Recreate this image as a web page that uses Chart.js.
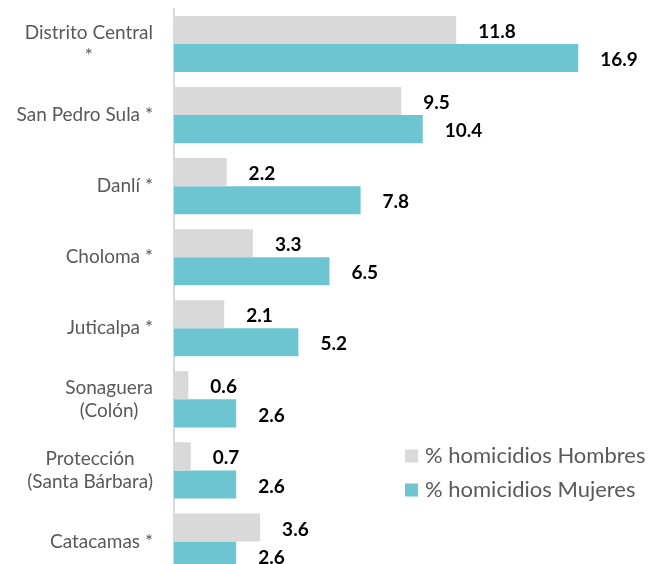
<!DOCTYPE html>
<html>
<head>
<meta charset="utf-8">
<script src="https://cdn.jsdelivr.net/npm/chart.js@4"></script>
<style>
  html, body { margin: 0; padding: 0; background: #fff; overflow: hidden; }
  canvas { display: block; }
</style>
</head>
<body>
<canvas id="chart" width="650" height="577"></canvas>
<script>
const categories = [
  ['Distrito Central', '*'],
  'San Pedro Sula *',
  'Danlí *',
  'Choloma *',
  'Juticalpa *',
  ['Sonaguera', '(Colón)'],
  ['Protección', '(Santa Bárbara)'],
  'Catacamas *'
]
const hombres = [11.8, 9.5, 2.2, 3.3, 2.1, 0.6, 0.7, 3.6]
const mujeres = [16.9, 10.4, 7.8, 6.5, 5.2, 2.6, 2.6, 2.6]
const seriesNames = ['% homicidios Hombres', '% homicidios Mujeres']
const colors = ['#d9d9d9', '#6cc5d0']

const FONT = 'Lato, "Open Sans", sans-serif'

// labels on the y axis: block right aligned, lines centred inside the block
const yLabels = {
  id: 'yLabels',
  afterDraw (chart) {
    const {ctx, scales: {y}} = chart
    ctx.save()
    ctx.font = `19px ${FONT}`
    ctx.fillStyle = '#595959'
    ctx.textAlign = 'center'
    ctx.textBaseline = 'middle'
    const right = 153
    const lh = 23
    categories.forEach((lab, i) => {
      const lines = Array.isArray(lab) ? lab : [lab]
      const widest = Math.max(...lines.map(l => ctx.measureText(l).width))
      const cx = right - widest / 2
      const cy = y.getPixelForTick(i)
      lines.forEach((l, j) => {
        ctx.fillText(l, cx, cy + (j - (lines.length - 1) / 2) * lh)
      })
    })
    ctx.restore()
  }
}

// value labels at the end of each bar
const valueLabels = {
  id: 'valueLabels',
  afterDatasetsDraw (chart) {
    const {ctx} = chart
    ctx.save()
    ctx.font = `bold 19px ${FONT}`
    ctx.fillStyle = '#000'
    ctx.textAlign = 'left'
    ctx.textBaseline = 'middle'
    chart.data.datasets.forEach((ds, di) => {
      chart.getDatasetMeta(di).data.forEach((bar, i) => {
        ctx.fillText(ds.data[i].toFixed(1), bar.x + 22, bar.y + 2)
      })
    })
    ctx.restore()
  }
}

// legend sitting inside the plot, lower right
const boxLegend = {
  id: 'boxLegend',
  afterDraw (chart) {
    const {ctx} = chart
    ctx.save()
    ctx.font = `22px ${FONT}`
    ctx.textBaseline = 'middle'
    ctx.textAlign = 'left'
    seriesNames.forEach((name, i) => {
      const y = 456 + i * 34
      ctx.fillStyle = colors[i]
      ctx.fillRect(405, y - 6.5, 13, 13)
      ctx.fillStyle = '#595959'
      ctx.fillText(name, 425, y)
    })
    ctx.restore()
  }
}

new Chart(document.getElementById('chart'), {
  type: 'bar',
  data: {
    labels: categories,
    datasets: [
      { label: seriesNames[0], data: hombres, backgroundColor: colors[0] },
      { label: seriesNames[1], data: mujeres, backgroundColor: colors[1] }
    ]
  },
  options: {
    indexAxis: 'y',
    responsive: false,
    animation: false,
    layout: { padding: { top: 8.5, right: 0, bottom: 0, left: 0 } },
    datasets: { bar: { categoryPercentage: 0.79, barPercentage: 1 } },
    scales: {
      x: { display: false, min: 0, max: 19.9 },
      y: {
        grid: { display: false, drawTicks: false },
        border: { display: true, color: '#d9d9d9', width: 2 },
        ticks: { display: false },
        afterFit (scale) { scale.width = 174 }
      }
    },
    plugins: {
      legend: { display: false },
      tooltip: { enabled: false }
    }
  },
  plugins: [yLabels, valueLabels, boxLegend]
})
</script>
</body>
</html>
